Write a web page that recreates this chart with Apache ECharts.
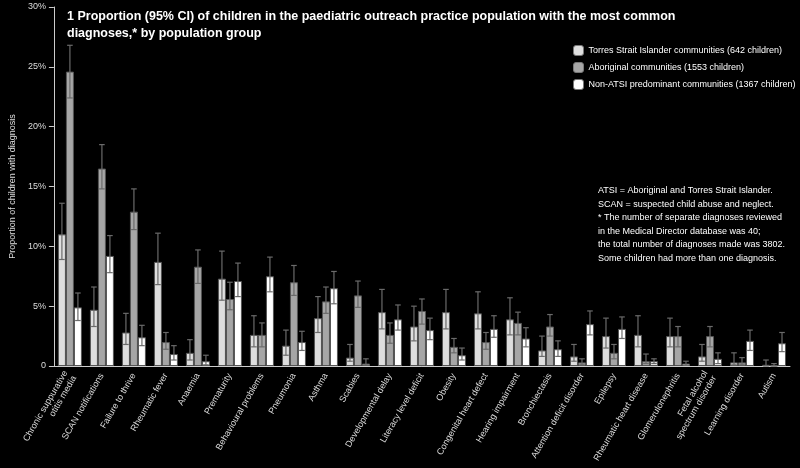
<!DOCTYPE html>
<html>
<head>
<meta charset="utf-8">
<script src="https://cdn.jsdelivr.net/npm/echarts@6/dist/echarts.min.js"></script>
<style>html,body{margin:0;padding:0;background:#000}#chart{width:800px;height:468px}</style>
</head>
<body>
<div id="chart"></div>
<script>
var categories = ['Chronic suppurative\notitis media', 'SCAN notifications', 'Failure to thrive', 'Rheumatic fever',
    'Anaemia', 'Prematurity', 'Behavioural problems', 'Pneumonia', 'Asthma', 'Scabies', 'Developmental delay',
    'Literacy level deficit', 'Obesity', 'Congenital heart defect', 'Hearing impairment', 'Bronchiectasis',
    'Attention deficit disorder', 'Epilepsy', 'Rheumatic heart disease', 'Glomerulonephritis',
    'Fetal alcohol\nspectrum disorder', 'Learning disorder', 'Autism'];
var seriesNames = ['Torres Strait Islander communities (642 children)', 'Aboriginal communities (1553 children)',
    'Non-ATSI predominant communities (1367 children)'];
var yTicks = ['0', '5%', '10%', '15%', '20%', '25%', '30%'];

var torres = [11.0, 4.7, 2.8, 8.7, 1.1, 7.3, 2.6, 1.7, 4.0, 0.7, 4.5, 3.3, 4.5, 4.4, 3.9, 1.3, 0.8, 2.5, 2.6, 2.5, 0.8, 0.3, 0.1];
var torresLo = [8.9, 3.3, 1.8, 6.8, 0.5, 5.5, 1.6, 0.9, 2.8, 0.4, 3.1, 2.1, 3.1, 3.1, 2.6, 0.8, 0.4, 1.5, 1.6, 1.6, 0.4, 0.1, 0];
var torresHi = [13.6, 6.6, 4.4, 11.1, 2.2, 9.6, 4.2, 3.0, 5.8, 1.8, 6.4, 5.0, 6.4, 6.2, 5.7, 2.5, 1.8, 4.0, 4.2, 4.0, 1.8, 1.1, 0.5];

var aboriginal = [24.6, 16.5, 12.9, 2.0, 8.3, 5.6, 2.6, 7.0, 5.4, 5.9, 2.6, 4.6, 1.6, 2.0, 3.6, 3.3, 0.3, 1.1, 0.4, 2.5, 2.5, 0.3, 0.05];
var aboriginalLo = [22.4, 14.8, 11.4, 1.4, 6.9, 4.7, 1.6, 5.9, 4.4, 4.9, 1.9, 3.5, 1.1, 1.4, 2.6, 2.5, 0.1, 0.6, 0.2, 1.6, 1.6, 0.1, 0];
var aboriginalHi = [26.8, 18.5, 14.8, 2.8, 9.7, 7.0, 3.6, 8.4, 6.6, 7.1, 3.6, 5.6, 2.3, 2.8, 4.5, 4.3, 0.6, 1.8, 1.0, 3.3, 3.3, 0.7, 0.2];

var nonAtsi = [4.9, 9.2, 2.4, 1.0, 0.4, 7.1, 7.5, 2.0, 6.5, 0.2, 3.9, 3.0, 0.9, 3.1, 2.3, 1.4, 3.5, 3.1, 0.4, 0.2, 0.6, 2.1, 1.9];
var nonAtsiLo = [3.8, 7.8, 1.7, 0.5, 0.1, 5.8, 6.2, 1.3, 5.2, 0.1, 3.0, 2.2, 0.5, 2.4, 1.6, 0.8, 2.6, 2.3, 0.2, 0.05, 0.2, 1.3, 1.2];
var nonAtsiHi = [6.1, 10.9, 3.4, 1.7, 0.9, 8.6, 9.1, 2.9, 7.9, 0.6, 5.1, 4.0, 1.5, 4.2, 3.2, 2.1, 4.6, 4.1, 0.6, 0.4, 1.1, 3.0, 2.8];

var colors = ['#dedede', '#a6a6a6', '#ffffff'];
var values = [torres, aboriginal, nonAtsi];
var lows = [torresLo, aboriginalLo, nonAtsiLo];
var highs = [torresHi, aboriginalHi, nonAtsiHi];

var chart = echarts.init(document.getElementById('chart'));

function errorSeries(k) {
    var data = categories.map(function (c, i) { return [i, lows[k][i], highs[k][i]]; });
    return {
        type: 'custom',
        data: data,
        z: 5,
        silent: true,
        renderItem: function (params, api) {
            var i = api.value(0);
            var lo = api.coord([i, api.value(1)]);
            var hi = api.coord([i, api.value(2)]);
            var band = api.size([1, 0])[0];
            var barW = band * 0.75 / 3;
            var x = lo[0] + (k - 1) * barW;
            var cap = barW * 0.35;
            var st = { stroke: '#6a6a6a', lineWidth: 1.2 };
            return {
                type: 'group',
                children: [
                    { type: 'line', shape: { x1: x, y1: lo[1], x2: x, y2: hi[1] }, style: st },
                    { type: 'line', shape: { x1: x - cap, y1: hi[1], x2: x + cap, y2: hi[1] }, style: st },
                    { type: 'line', shape: { x1: x - cap, y1: lo[1], x2: x + cap, y2: lo[1] }, style: st }
                ]
            };
        }
    };
}

var series = [];
seriesNames.forEach(function (name, k) {
    series.push({
        name: name,
        type: 'bar',
        data: values[k],
        barGap: '0%',
        barCategoryGap: '25%',
        itemStyle: { color: colors[k], borderColor: '#555', borderWidth: 1 }
    });
});
seriesNames.forEach(function (name, k) { series.push(errorSeries(k)); });

var option = {
    backgroundColor: '#000',
    animation: false,
    textStyle: { fontFamily: 'Liberation Sans, Arial, sans-serif' },
    title: {
        text: '1 Proportion (95% CI) of children in the paediatric outreach practice population with the most common\ndiagnoses,* by population group',
        left: 62, top: 3,
        textStyle: { color: '#fff', fontSize: 12.5, fontWeight: 'bold', lineHeight: 17 }
    },
    legend: {
        data: seriesNames,
        orient: 'vertical',
        left: 568, top: 40,
        itemWidth: 10, itemHeight: 10, itemGap: 6,
        textStyle: { color: '#fff', fontSize: 9, letterSpacing: -0.3 },
        itemStyle: { borderColor: '#777', borderWidth: 1 }
    },
    graphic: [{
        type: 'text',
        left: 598, top: 184,
        style: {
            text: 'ATSI = Aboriginal and Torres Strait Islander.\nSCAN = suspected child abuse and neglect.\n* The number of separate diagnoses reviewed\nin the Medical Director database was 40;\nthe total number of diagnoses made was 3802.\nSome children had more than one diagnosis.',
            fill: '#fff', fontSize: 9, lineHeight: 13.5
        }
    }],
    grid: { left: 45, right: 10, top: 7, bottom: 102 },
    xAxis: {
        type: 'category',
        data: categories,
        axisLine: { lineStyle: { color: '#ccc' } },
        axisTick: { lineStyle: { color: '#ccc' } },
        axisLabel: { color: '#ddd', fontSize: 9, rotate: 60, interval: 0, lineHeight: 10 }
    },
    yAxis: {
        type: 'value',
        min: 0, max: 30, interval: 5,
        name: 'Proportion of children with diagnosis',
        nameLocation: 'middle', nameGap: 30,
        nameTextStyle: { color: '#ddd', fontSize: 9 },
        axisLine: { show: true, lineStyle: { color: '#ccc' } },
        axisTick: { show: true, lineStyle: { color: '#ccc' } },
        splitLine: { show: false },
        axisLabel: { color: '#ddd', fontSize: 9, formatter: function (v) { return yTicks[v / 5]; } }
    },
    series: series
};
chart.setOption(option);
</script>
</body>
</html>
